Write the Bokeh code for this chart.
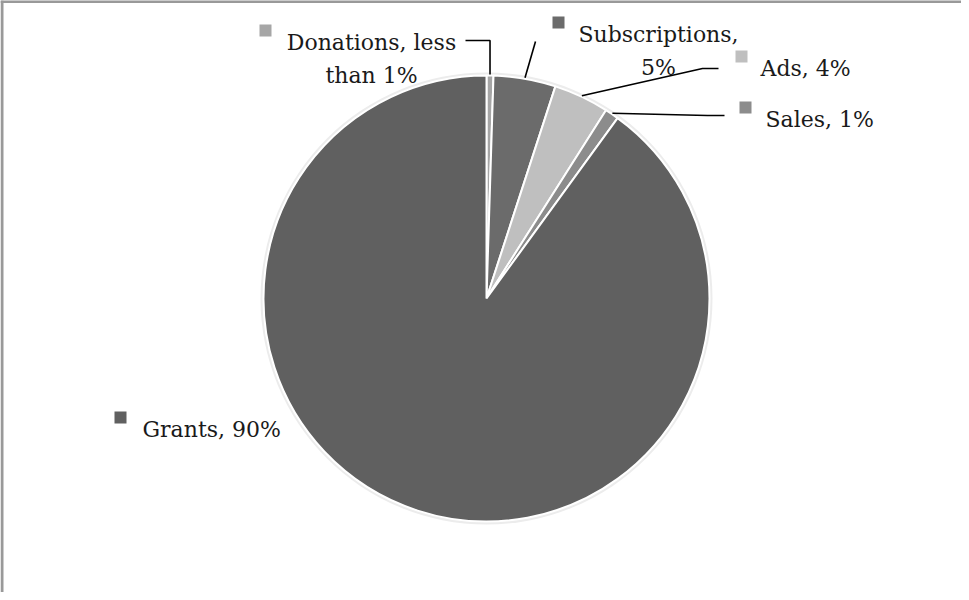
import numpy as np
from bokeh.plotting import figure
from bokeh.models import Range1d, Span, ColumnDataSource
from bokeh.embed import file_html
from bokeh.resources import INLINE
from bokeh.core.properties import value

# ---- data ----
categories = ["Donations", "Subscriptions", "Ads", "Sales", "Grants"]
shares = [0.5, 4.5, 4.0, 1.0, 90.0]
label_lines = [["Donations, less", "than 1%"], ["Subscriptions,", "5%"],
               ["Ads, 4%"], ["Sales, 1%"], ["Grants, 90%"]]

# ---- style ----
slice_colors = ["#a6a6a6", "#6b6b6b", "#bfbfbf", "#8c8c8c", "#606060"]
FONT = "DejaVu Serif"
FSIZE = "22px"

W, H = 961, 592


def Y(ref_y):
    return 600 - ref_y


CX, CY, R = 494, Y(306), 223

# label layout (page pixel positions)
text_pos = [
    [(379, 50, "center"), (379, 83, "center")],
    [(666, 42, "center"), (666, 75, "center")],
    [(768, 76, "left")],
    [(773, 127, "left")],
    [(150, 437, "left")],
]
marker_pos = [(273, 38), (566, 30), (749, 64), (753, 115), (128, 425)]
leader_elbows = [
    "vertical:48:473",
    [(543, 49)],
    [(710, 76), (726, 76)],
    [(715, 123), (732, 123)],
    None,
]

p = figure(width=W, height=H, output_backend="svg", toolbar_location=None,
           x_range=Range1d(8, 8 + W), y_range=Range1d(0, H),
           min_border=0, x_axis_type=None, y_axis_type=None)
p.grid.visible = False
p.outline_line_color = None
p.background_fill_color = "white"
p.border_fill_color = "white"

# frame border (top & left visible, rest cropped)
p.add_layout(Span(location=Y(9), dimension="width", line_color="#999999", line_width=3))
p.add_layout(Span(location=9.5, dimension="height", line_color="#999999", line_width=3))

# pie
vals = np.array(shares, dtype=float)
frac = vals / vals.sum()
cum_after = np.cumsum(frac)
cum_before = cum_after - frac
start = np.pi / 2 - 2 * np.pi * cum_after
end = np.pi / 2 - 2 * np.pi * cum_before
mid = (start + end) / 2

# faint shadow
p.circle(x=[CX], y=[CY], radius=R + 3, fill_color="#ececec", line_color=None)

src = ColumnDataSource(dict(cat=categories, start=start, end=end, color=slice_colors))
p.wedge(x=CX, y=CY, radius=R, start_angle="start", end_angle="end",
        direction="anticlock", fill_color="color", line_color="white",
        line_width=2, source=src)

# leader lines
for i, el in enumerate(leader_elbows):
    if el is None:
        continue
    ax = CX + (R + 1) * np.cos(mid[i])
    ay = CY + (R + 1) * np.sin(mid[i])
    if isinstance(el, str):
        _, yy, xx = el.split(":")
        pts = [(ax, 600 - Y(int(yy)) if False else None)]
        xs = [ax, ax, float(xx)]
        ys = [ay, Y(int(yy)), Y(int(yy))]
    else:
        xs = [ax] + [e[0] for e in el]
        ys = [ay] + [Y(e[1]) for e in el]
    p.line(xs, ys, line_color="black", line_width=1.6)

# legend-like label markers
p.scatter(x=[m[0] for m in marker_pos], y=[Y(m[1]) for m in marker_pos],
          marker="square", size=12, fill_color=slice_colors, line_color=None)

# label texts
for lines, poss in zip(label_lines, text_pos):
    for txt, (tx, ty, al) in zip(lines, poss):
        p.text(x=[tx], y=[Y(ty)], text=[txt], text_font=value(FONT),
               text_font_size=FSIZE, text_color="#1a1a1a", text_align=al,
               text_baseline="alphabetic")

open("out.html", "w").write(file_html(p, INLINE))
